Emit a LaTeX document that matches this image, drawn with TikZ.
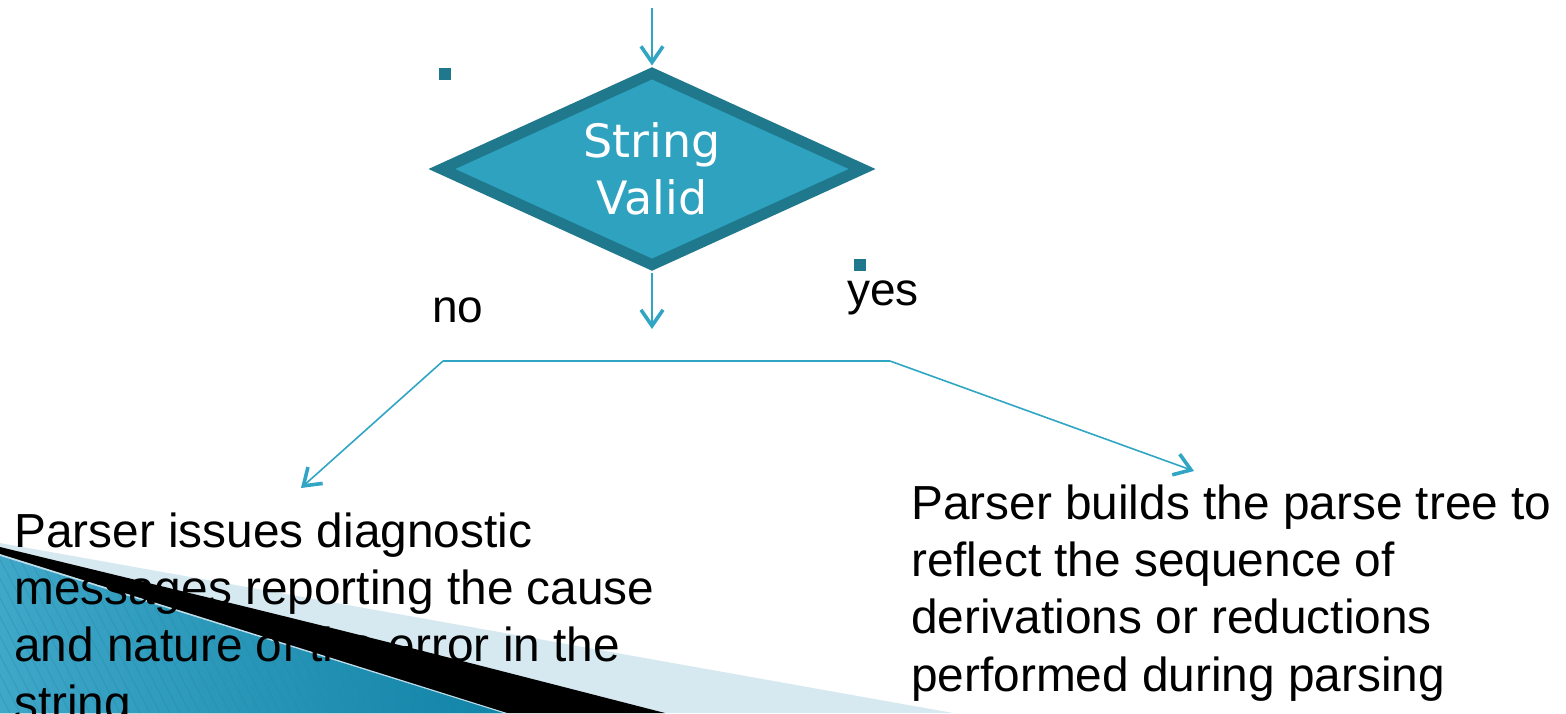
\documentclass[tikz,border=0pt]{standalone}
\usepackage{fontspec}
\setmainfont{Liberation Sans}
\newfontfamily\dejavu{DejaVu Sans}
\usetikzlibrary{shapes.geometric,arrows.meta}
\definecolor{tealfill}{HTML}{2EA2BF}
\definecolor{tealdark}{HTML}{1F788C}
\definecolor{arrowcol}{HTML}{30A6C4}
\definecolor{paleblue}{HTML}{D6E9F1}
\definecolor{wedgeL}{HTML}{3FA7C8}
\definecolor{wedgeM}{HTML}{5EBCDB}
\definecolor{wedgeR}{HTML}{1084A7}
\definecolor{stripecol}{HTML}{2A88AA}
\definecolor{edgecol}{HTML}{BEDDEA}
\begin{document}
\begin{tikzpicture}[x=1pt,y=-1pt,
  decision/.style={diamond, draw=tealdark, fill=tealfill, line width=11pt,
    minimum width=425pt, minimum height=196pt, aspect=2.17, inner sep=0pt,
    text=white, align=center, font={\dejavu\fontsize{46pt}{57pt}\selectfont}},
  conn/.style={draw=arrowcol, line width=1.6pt},
  arr/.style={conn, -{Straight Barb[length=16pt,width=22pt,line width=3.6pt]}},
  bodytext/.style={inner sep=0pt, anchor=base west, font=\fontsize{47.8pt}{57.4pt}\selectfont},
  lbl/.style={inner sep=0pt, anchor=base west, font=\fontsize{46pt}{55pt}\selectfont},
  bulletsq/.style={fill=tealdark, minimum size=12pt, inner sep=0pt, draw=none}
]
\useasboundingbox (0,0) rectangle (1566,713);
\fill[white] (0,0) rectangle (1566,713);

% corner decoration
\fill[paleblue] (0,543) -- (953,713) -- (0,713) -- cycle;
\fill[black] (0,547) .. controls (330,627) .. (665,713) -- (0,713) -- cycle;
\fill[edgecol] (0,554) -- (507,713) -- (0,713) -- cycle;
\begin{scope}
  \clip (0,556) -- (503,713) -- (0,713) -- cycle;
  \shade[left color=wedgeL, middle color=wedgeM, right color=wedgeR] (0,540) rectangle (503,713);
  \foreach \i in {-20,...,60} {
    \draw[stripecol, opacity=0.45, line width=0.8pt] (\i*10,540) -- ++(90,173);
  }
\end{scope}

% text blocks
\node[bodytext] (notext) at (14,547) {\vtop{\hbox{Parser issues diagnostic}\hbox{messages reporting the cause}\hbox{and nature of the error in the}\hbox{string}}};
\node[bodytext] (yestext) at (911,519) {\vtop{\hbox{Parser builds the parse tree to}\hbox{reflect the sequence of}\hbox{derivations or reductions}\hbox{performed during parsing}}};

% decision
\node[decision] (d) at (652,169) {String\\Valid};

\node[bulletsq] (sq1) at (444.5,74) {};
\node[bulletsq] (sq2) at (860,265) {};
\node[lbl] (no) at (432,322) {no};
\node[lbl] (yes) at (847,305) {yes};

\coordinate (in) at (652,8);
\coordinate (out) at (652,329);
\coordinate (L) at (443,361);
\coordinate (R) at (890,361);
\coordinate (ltip) at (301,488);
\coordinate (rtip) at (1194,471);

\draw[arr] (in) -- (d.north);
\draw[arr] (d.south) -- (out);
\draw[conn] (L) -- (R);
\draw[arr] (L) -- (ltip);
\draw[arr] (R) -- (rtip);
\end{tikzpicture}
\end{document}
